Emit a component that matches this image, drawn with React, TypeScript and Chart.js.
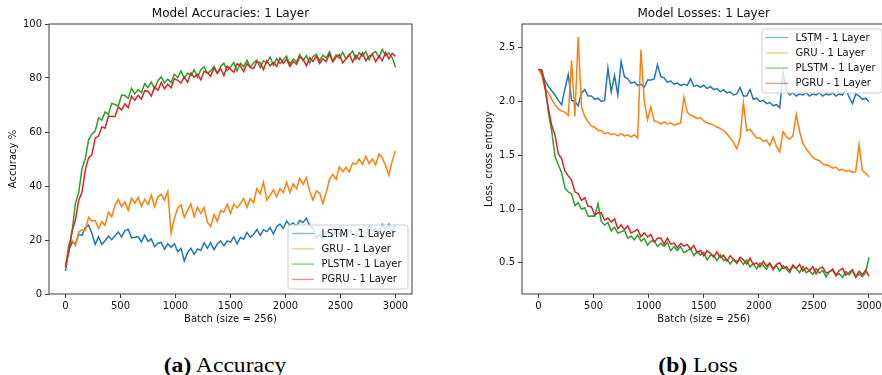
import React, { useEffect, useRef } from 'react';
import { Chart, registerables } from 'chart.js';

Chart.register(...registerables);

// ---------- data ----------
const STEP = 30;
const BATCHES = Array.from({ length: 101 }, (_, i) => i * STEP);
const X_TICKS = [0, 500, 1000, 1500, 2000, 2500, 3000];
const ACC_TICKS = [0, 20, 40, 60, 80, 100];
const LOSS_TICKS = [0.5, 1.0, 1.5, 2.0, 2.5];

const SERIES_NAMES = ['LSTM - 1 Layer', 'GRU - 1 Layer', 'PLSTM - 1 Layer', 'PGRU - 1 Layer'];
const COLORS = ['#1f77b4', '#ff7f0e', '#2ca02c', '#d62728'];
const LEGEND_COLORS = ['rgba(31,119,180,0.55)', 'rgba(255,127,14,0.45)', 'rgba(44,160,44,0.55)', 'rgba(214,39,40,0.5)'];

const ACC_LSTM = [
  10, 16.1, 19.1, 18.6, 22.1, 21.7, 24.6, 25.5, 22.5, 18.4,
  21.2, 18.4, 19.7, 21.4, 20.1, 21.6, 23.0, 21.1, 23.5, 24.0,
  20.8, 21.0, 21.3, 19.3, 21.8, 19.5, 20.4, 17.5, 18.8, 19.1,
  16.5, 18.6, 17.3, 18.6, 15.7, 16.9, 12.2, 15.4, 16.9, 14.7,
  16.7, 16.1, 19.0, 16.9, 19.0, 16.4, 18.5, 19.7, 17.9, 19.7,
  19.2, 21.2, 18.6, 21.0, 20.3, 22.8, 21.0, 22.1, 23.9, 21.7,
  23.8, 23.1, 24.6, 22.3, 24.9, 25.9, 24.3, 27.0, 25.5, 26.3,
  25.2, 27.2, 26.5, 28.1, 25.3, 24.4, 20.7, 21.9, 20.4, 23.0,
  22.3, 20.9, 24.0, 22.0, 22.8, 20.7, 23.7, 22.3, 21.5, 24.4,
  23.5, 22.5, 25.2, 23.3, 24.2, 22.7, 25.8, 24.1, 25.9, 23.3,
  25.6,
];
const ACC_GRU = [
  10, 18.6, 19.8, 17.9, 22.9, 23.8, 23.6, 28.4, 27.0, 27.3,
  24.3, 26.8, 25.4, 30.3, 28.6, 32.9, 35.0, 32.3, 34.1, 31.0,
  35.5, 33.6, 35.8, 32.5, 35.1, 33.1, 36.6, 32.3, 36.0, 36.9,
  34.8, 38.0, 22.5, 28.0, 31.8, 33.1, 28.4, 31.0, 33.3, 28.6,
  32.1, 29.8, 32.0, 26.6, 25.0, 29.5, 26.9, 30.9, 30.3, 33.3,
  29.8, 33.3, 31.9, 33.5, 35.4, 32.1, 35.3, 33.8, 39.1, 37.1,
  41.4, 34.8, 36.6, 38.6, 36.0, 39.0, 37.6, 41.4, 37.5, 40.8,
  39.0, 42.8, 40.6, 43.1, 38.0, 34.8, 38.1, 37.4, 33.5, 37.6,
  42.5, 44.3, 42.4, 47.1, 45.3, 46.9, 45.1, 48.5, 48.0, 50.0,
  48.0, 51.0, 48.3, 50.0, 47.8, 51.9, 50.4, 47.5, 44.0, 49.3,
  53.1,
];
const ACC_PLSTM = [
  8.5, 17.2, 23.2, 33.6, 37.6, 46.4, 50.2, 57.1, 59.3, 60.3,
  65.2, 64.4, 67.4, 66.5, 70.6, 70.2, 69.6, 73.7, 73.5, 72.5,
  76.2, 74.1, 75.7, 74.6, 77.9, 76.5, 78.5, 76.0, 79.0, 80.4,
  78.2, 79.6, 78.3, 81.4, 80.2, 82.6, 79.9, 81.8, 80.9, 83.1,
  80.3, 83.1, 84.1, 81.8, 82.6, 84.3, 81.8, 84.2, 85.5, 82.7,
  84.1, 85.7, 82.6, 85.5, 84.2, 86.6, 84.0, 85.6, 86.6, 83.9,
  86.4, 85.6, 87.8, 84.7, 87.2, 85.4, 86.8, 88.1, 85.2, 87.0,
  85.9, 88.7, 86.4, 88.3, 85.5, 87.9, 88.8, 86.4, 88.5, 87.5,
  89.7, 86.3, 88.6, 87.3, 89.6, 87.1, 88.4, 90.0, 87.0, 89.4,
  88.1, 89.8, 86.8, 89.1, 89.8, 87.5, 90.6, 88.3, 89.3, 87.5,
  84.0,
];
const ACC_PGRU = [
  10, 15.5, 23.3, 27.4, 34.7, 37.7, 46.0, 50.4, 51.6, 57.7,
  58.5, 61.9, 61.4, 65.9, 65.7, 65.7, 69.3, 68.1, 70.4, 69.0,
  73.3, 71.8, 73.6, 72.2, 75.3, 75.1, 73.3, 76.7, 75.4, 78.3,
  76.0, 77.7, 76.4, 79.8, 79.1, 78.2, 80.4, 78.4, 81.9, 80.2,
  81.4, 79.3, 82.5, 81.9, 80.7, 83.7, 81.7, 83.5, 80.9, 84.4,
  83.2, 82.1, 85.3, 84.4, 82.4, 85.3, 83.9, 83.5, 86.1, 85.6,
  83.1, 86.4, 84.5, 85.8, 84.3, 87.4, 85.4, 87.0, 84.3, 86.1,
  85.1, 87.8, 87.0, 84.5, 87.5, 86.1, 88.1, 85.4, 87.1, 86.1,
  88.9, 86.0, 87.7, 88.7, 85.6, 87.1, 88.7, 85.9, 88.4, 86.9,
  89.3, 86.4, 88.0, 88.8, 86.0, 88.2, 86.4, 89.5, 87.1, 89.1,
  88.0,
];

const LOSS_LSTM = [
  2.30, 2.27, 2.19, 2.14, 2.10, 2.06, 2.01, 1.97, 2.12, 2.25,
  2.01, 2.00, 1.96, 2.08, 2.11, 2.05, 2.05, 2.02, 2.03, 2.00,
  2.01, 2.31, 2.09, 2.24, 2.06, 2.37, 2.23, 2.21, 2.17, 2.18,
  2.15, 2.16, 2.13, 2.20, 2.20, 2.21, 2.34, 2.23, 2.22, 2.18,
  2.19, 2.16, 2.17, 2.15, 2.16, 2.15, 2.21, 2.14, 2.15, 2.13,
  2.15, 2.12, 2.14, 2.11, 2.12, 2.09, 2.11, 2.08, 2.09, 2.06,
  2.07, 2.13, 2.05, 2.05, 2.11, 2.02, 2.03, 2.00, 2.01, 1.98,
  1.99, 1.96, 1.97, 1.94, 2.27, 2.10, 2.06, 2.08, 2.05, 2.07,
  2.06, 2.08, 2.05, 2.07, 2.06, 2.08, 2.05, 2.07, 2.06, 2.08,
  2.05, 2.07, 2.06, 2.11, 2.04, 1.98, 2.07, 2.05, 2.02, 2.03,
  2.00,
];
const LOSS_GRU = [
  2.30, 2.24, 2.12, 2.08, 2.02, 1.97, 1.93, 1.91, 1.90, 1.87,
  2.38, 1.86, 2.60, 1.95, 1.86, 1.81, 1.77, 1.76, 1.73, 1.73,
  1.70, 1.71, 1.69, 1.70, 1.68, 1.70, 1.68, 1.69, 1.67, 1.69,
  1.66, 2.48, 2.00, 1.83, 1.95, 1.82, 1.81, 1.79, 1.81, 1.79,
  1.80, 1.78, 1.79, 1.80, 2.04, 1.90, 1.87, 1.86, 1.84, 1.85,
  1.82, 1.80, 1.79, 1.78, 1.76, 1.75, 1.73, 1.70, 1.66, 1.62,
  1.56, 1.66, 1.99, 1.73, 1.74, 1.70, 1.66, 1.66, 1.63, 1.64,
  1.59, 1.67, 1.58, 1.53, 1.72, 1.67, 1.65, 1.68, 1.88, 1.72,
  1.61, 1.56, 1.52, 1.48, 1.46, 1.45, 1.42, 1.41, 1.40, 1.38,
  1.39, 1.36, 1.37, 1.35, 1.36, 1.34, 1.35, 1.60, 1.36, 1.33,
  1.30,
];
const LOSS_PLSTM = [
  2.30, 2.29, 2.15, 1.892, 1.722, 1.488, 1.412, 1.334, 1.194, 1.16,
  1.138, 1.032, 1.058, 0.998, 1.012, 0.933, 0.936, 0.934, 1.05, 0.884,
  0.851, 0.876, 0.797, 0.83, 0.777, 0.788, 0.80, 0.73, 0.749, 0.715,
  0.759, 0.701, 0.727, 0.664, 0.70, 0.706, 0.651, 0.681, 0.654, 0.688,
  0.613, 0.65, 0.614, 0.651, 0.593, 0.612, 0.635, 0.568, 0.608, 0.57,
  0.597, 0.528, 0.568, 0.573, 0.521, 0.574, 0.521, 0.533, 0.49, 0.531,
  0.51, 0.529, 0.484, 0.527, 0.462, 0.493, 0.444, 0.497, 0.476, 0.441,
  0.496, 0.446, 0.473, 0.422, 0.474, 0.441, 0.408, 0.468, 0.447, 0.408,
  0.466, 0.409, 0.427, 0.392, 0.445, 0.403, 0.43, 0.369, 0.417, 0.432,
  0.379, 0.399, 0.364, 0.419, 0.387, 0.427, 0.365, 0.397, 0.371, 0.409,
  0.55,
];
const LOSS_PGRU = [
  2.30, 2.29, 2.12, 1.934, 1.776, 1.686, 1.512, 1.47, 1.352, 1.308,
  1.27, 1.16, 1.144, 1.08, 1.104, 1.026, 1.022, 0.944, 0.965, 0.966,
  0.896, 0.916, 0.879, 0.908, 0.818, 0.852, 0.809, 0.843, 0.778, 0.792,
  0.812, 0.742, 0.778, 0.74, 0.764, 0.692, 0.728, 0.73, 0.674, 0.729,
  0.673, 0.683, 0.64, 0.678, 0.655, 0.671, 0.624, 0.662, 0.592, 0.615,
  0.564, 0.612, 0.588, 0.551, 0.602, 0.548, 0.571, 0.516, 0.566, 0.531,
  0.494, 0.552, 0.527, 0.488, 0.543, 0.484, 0.499, 0.462, 0.513, 0.47,
  0.497, 0.436, 0.485, 0.50, 0.445, 0.464, 0.427, 0.48, 0.447, 0.486,
  0.423, 0.454, 0.427, 0.464, 0.399, 0.448, 0.459, 0.406, 0.415, 0.442,
  0.386, 0.428, 0.448, 0.386, 0.41, 0.436, 0.368, 0.422, 0.39, 0.432,
  0.376,
];

// ---------- drawing helpers ----------
const FONT = '"DejaVu Sans", sans-serif';

type Decor = {
  title: string;
  xLabel: string;
  yLabel: string;
  yLabelX: number;
  legendX: number;
  legendY: number;
};

function decorPlugin(cfg: Decor) {
  return {
    id: 'decor',
    afterDatasetsDraw(chart: any) {
      const { ctx, chartArea: a } = chart;
      ctx.save();
      // axes frame
      ctx.strokeStyle = '#3c3c3c';
      ctx.lineWidth = 1;
      ctx.strokeRect(a.left, a.top, a.right - a.left, a.bottom - a.top);
      // title
      ctx.fillStyle = '#111';
      ctx.textAlign = 'center';
      ctx.textBaseline = 'middle';
      ctx.font = `12px ${FONT}`;
      ctx.fillText(cfg.title, (a.left + a.right) / 2, 14);
      // axis labels
      ctx.font = `10px ${FONT}`;
      ctx.fillText(cfg.xLabel, (a.left + a.right) / 2, 319.5);
      ctx.save();
      ctx.translate(cfg.yLabelX, (a.top + a.bottom) / 2);
      ctx.rotate(-Math.PI / 2);
      ctx.fillText(cfg.yLabel, 0, 0);
      ctx.restore();
      // legend
      const lx = cfg.legendX;
      const ly = cfg.legendY;
      const w = 120;
      const h = 64;
      const r = 2.5;
      ctx.beginPath();
      ctx.moveTo(lx + r, ly);
      ctx.lineTo(lx + w - r, ly);
      ctx.quadraticCurveTo(lx + w, ly, lx + w, ly + r);
      ctx.lineTo(lx + w, ly + h - r);
      ctx.quadraticCurveTo(lx + w, ly + h, lx + w - r, ly + h);
      ctx.lineTo(lx + r, ly + h);
      ctx.quadraticCurveTo(lx, ly + h, lx, ly + h - r);
      ctx.lineTo(lx, ly + r);
      ctx.quadraticCurveTo(lx, ly, lx + r, ly);
      ctx.closePath();
      ctx.fillStyle = 'rgba(255,255,255,0.8)';
      ctx.fill();
      ctx.strokeStyle = '#cccccc';
      ctx.lineWidth = 1;
      ctx.stroke();
      ctx.textAlign = 'left';
      ctx.font = `10px ${FONT}`;
      SERIES_NAMES.forEach((name, k) => {
        const yy = ly + 8.5 + k * 15.3;
        ctx.strokeStyle = LEGEND_COLORS[k];
        ctx.lineWidth = 1.4;
        ctx.beginPath();
        ctx.moveTo(lx + 3.7, yy);
        ctx.lineTo(lx + 26, yy);
        ctx.stroke();
        ctx.fillStyle = '#111';
        ctx.fillText(name, lx + 33.5, yy + 0.5);
      });
      ctx.restore();
    },
  };
}

function buildChart(
  canvas: HTMLCanvasElement,
  series: number[][],
  yMin: number,
  yMax: number,
  yTicks: number[],
  yFmt: (v: number) => string,
  padLeft: number,
  padRight: number,
  yWidth: number,
  decor: Decor
) {
  const axisCommon = {
    grid: {
      display: true,
      drawOnChartArea: false,
      drawTicks: true,
      tickLength: 4,
      color: '#3c3c3c',
      lineWidth: 1,
    },
    border: { display: false },
  };
  return new Chart(canvas, {
    type: 'line',
    data: {
      datasets: series.map((vals, k) => ({
        label: SERIES_NAMES[k],
        data: BATCHES.map((b, i) => ({ x: b, y: vals[i] })),
        borderColor: COLORS[k],
        backgroundColor: COLORS[k],
        borderWidth: 1.5,
        borderJoinStyle: 'miter',
        pointRadius: 0,
        tension: 0,
        fill: false,
        order: 3 - k,
      })),
    },
    options: {
      animation: false,
      responsive: false,
      devicePixelRatio: 1,
      events: [],
      layout: { padding: { left: padLeft, right: padRight, top: 24, bottom: 0 } },
      plugins: {
        legend: { display: false },
        tooltip: { enabled: false },
        title: { display: false },
      },
      scales: {
        x: {
          type: 'linear',
          min: -150,
          max: 3150,
          ...axisCommon,
          afterBuildTicks: (s: any) => {
            s.ticks = X_TICKS.map((v) => ({ value: v }));
          },
          afterFit: (s: any) => {
            s.height = 36;
          },
          ticks: {
            padding: 2,
            color: '#111',
            font: { family: FONT, size: 10 },
            maxRotation: 0,
            autoSkip: false,
            callback: (v: any) => String(v),
          },
        },
        y: {
          type: 'linear',
          min: yMin,
          max: yMax,
          ...axisCommon,
          afterBuildTicks: (s: any) => {
            s.ticks = yTicks.map((v) => ({ value: v }));
          },
          afterFit: (s: any) => {
            s.width = yWidth;
          },
          ticks: {
            padding: 3,
            color: '#111',
            font: { family: FONT, size: 10 },
            autoSkip: false,
            callback: (v: any) => yFmt(Number(v)),
          },
        },
      },
    },
    plugins: [decorPlugin(decor)],
  } as any);
}

export default function App() {
  const accRef = useRef<HTMLCanvasElement>(null);
  const lossRef = useRef<HTMLCanvasElement>(null);

  useEffect(() => {
    const acc = buildChart(
      accRef.current!,
      [ACC_LSTM, ACC_GRU, ACC_PLSTM, ACC_PGRU],
      0,
      100,
      ACC_TICKS,
      (v) => String(v),
      0,
      29,
      49,
      {
        title: 'Model Accuracies: 1 Layer',
        xLabel: 'Batch (size = 256)',
        yLabel: 'Accuracy %',
        yLabelX: 13,
        legendX: 288,
        legendY: 225,
      }
    );
    const loss = buildChart(
      lossRef.current!,
      [LOSS_LSTM, LOSS_GRU, LOSS_PLSTM, LOSS_PGRU],
      0.21,
      2.72,
      LOSS_TICKS,
      (v) => v.toFixed(1),
      34,
      5.5,
      47,
      {
        title: 'Model Losses: 1 Layer',
        xLabel: 'Batch (size = 256)',
        yLabel: 'Loss, cross entropy',
        yLabelX: 48,
        legendX: 321,
        legendY: 29,
      }
    );
    return () => {
      acc.destroy();
      loss.destroy();
    };
  }, []);

  const caption: React.CSSProperties = {
    position: 'absolute',
    top: 355,
    width: 200,
    textAlign: 'center',
    fontFamily: '"Liberation Serif", "Times New Roman", serif',
    fontSize: 20,
    lineHeight: '20px',
    color: '#000',
    whiteSpace: 'nowrap',
    transform: 'scaleX(1.18)',
  };

  return (
    <div
      style={{
        position: 'fixed',
        left: 0,
        top: 0,
        width: 882,
        height: 375,
        overflow: 'hidden',
        background: '#fff',
      }}
    >
      <canvas
        ref={accRef}
        width={441}
        height={330}
        style={{ position: 'absolute', left: 0, top: 0, width: 441, height: 330 }}
      />
      <canvas
        ref={lossRef}
        width={450}
        height={330}
        style={{ position: 'absolute', left: 441, top: 0, width: 450, height: 330 }}
      />
      <div style={{ ...caption, left: 124.7 }}>
        <b>(a)</b> Accuracy
      </div>
      <div style={{ ...caption, left: 598.3 }}>
        <b>(b)</b> Loss
      </div>
    </div>
  );
}
